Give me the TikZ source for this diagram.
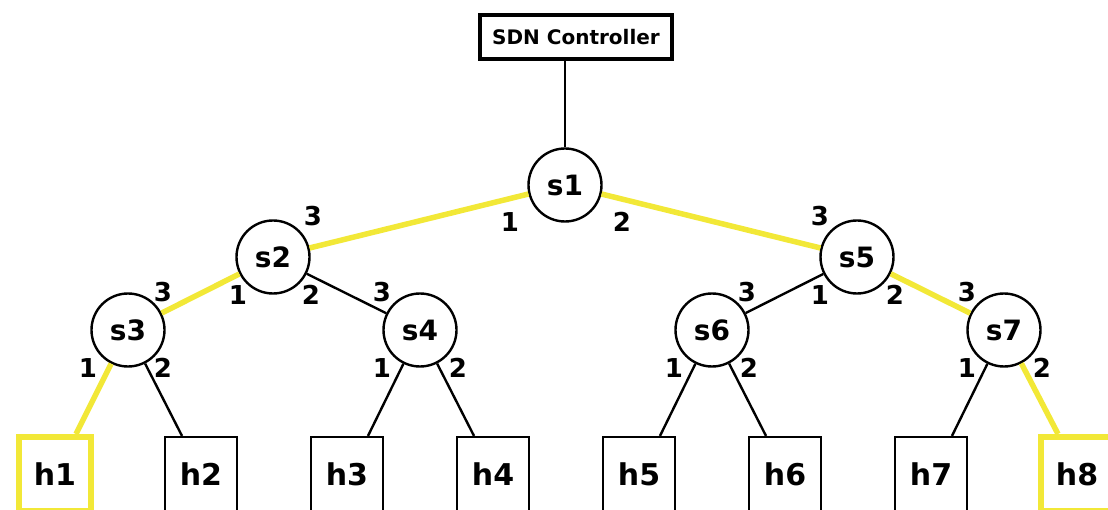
\documentclass[tikz,border=0pt]{standalone}
\usepackage{fontspec}
\setmainfont{DejaVu Sans}
\usetikzlibrary{positioning}
\definecolor{pathyellow}{RGB}{242,232,55}
\tikzset{
    %Define style for switches
    swt/.style={
           circle,
           draw = black, line width = 2.4pt, fill = white,
           minimum size = 73pt, inner sep = 0pt,
           font = \fontsize{28}{30}\selectfont\bfseries},
    %Define style for hosts
    hst/.style={
           rectangle,
           draw = black, line width = 2.2pt, fill = white,
           minimum width = 72pt, minimum height = 74pt,
           font = \fontsize{30}{32}\selectfont\bfseries},
    onpath/.style={
           draw = pathyellow, line width = 6pt},
    ctl/.style={
           rectangle,
           draw = black, line width = 4pt, fill = white,
           minimum width = 192pt, minimum height = 44pt,
           font = \fontsize{20}{22}\selectfont\bfseries},
    prt/.style={
           inner sep = 0pt,
           font = \fontsize{26}{28}\selectfont\bfseries},
    % Define link styles
    lnk/.style={
           line width = 2.4pt},
    yel/.style={
           draw = pathyellow, line width = 5.5pt}
}
\begin{document}
\begin{tikzpicture}[x=1pt, y=-1pt]
\useasboundingbox (0,0) rectangle (1108,510);
 %nodes
\node[ctl] (ctrl) at (576,37) {SDN Controller};
\node[swt] (s1) at (565,185) {s1};
\node[swt] (s2) at (273,257) {s2};
\node[swt] (s5) at (857,257) {s5};
\node[swt] (s3) at (128,330) {s3};
\node[swt] (s4) at (420,330) {s4};
\node[swt] (s6) at (712,330) {s6};
\node[swt] (s7) at (1004,330) {s7};
\node[hst, onpath] (h1) at (55,474) {h1};
\node[hst] (h2) at (201,474) {h2};
\node[hst] (h3) at (347,474) {h3};
\node[hst] (h4) at (493,474) {h4};
\node[hst] (h5) at (639,474) {h5};
\node[hst] (h6) at (785,474) {h6};
\node[hst] (h7) at (931,474) {h7};
\node[hst, onpath] (h8) at (1077,474) {h8};
 %ports
\node[prt] (s1p1) at ([shift={(-55,37)}]s1) {1};
\node[prt] (s1p2) at ([shift={(57,37)}]s1) {2};
\node[prt] (s2p3) at ([shift={(40,-41)}]s2) {3};
\node[prt] (s2p1) at ([shift={(-35,38)}]s2) {1};
\node[prt] (s2p2) at ([shift={(38,38)}]s2) {2};
\node[prt] (s5p3) at ([shift={(-37,-41)}]s5) {3};
\node[prt] (s5p1) at ([shift={(-37,38)}]s5) {1};
\node[prt] (s5p2) at ([shift={(38,38)}]s5) {2};
\node[prt] (s3p3) at ([shift={(35,-38)}]s3) {3};
\node[prt] (s3p1) at ([shift={(-40,38)}]s3) {1};
\node[prt] (s3p2) at ([shift={(35,38)}]s3) {2};
\node[prt] (s4p3) at ([shift={(-38,-38)}]s4) {3};
\node[prt] (s4p1) at ([shift={(-38,38)}]s4) {1};
\node[prt] (s4p2) at ([shift={(38,38)}]s4) {2};
\node[prt] (s6p3) at ([shift={(35,-38)}]s6) {3};
\node[prt] (s6p1) at ([shift={(-38,38)}]s6) {1};
\node[prt] (s6p2) at ([shift={(37,38)}]s6) {2};
\node[prt] (s7p3) at ([shift={(-37,-38)}]s7) {3};
\node[prt] (s7p1) at ([shift={(-37,38)}]s7) {1};
\node[prt] (s7p2) at ([shift={(38,38)}]s7) {2};
 %links
\draw[lnk] (s1) -- (s1 |- ctrl.south);
\draw[yel] (s1) -- (s2);
\draw[yel] (s1) -- (s5);
\draw[yel] (s2) -- (s3);
\draw[lnk] (s2) -- (s4);
\draw[lnk] (s5) -- (s6);
\draw[yel] (s5) -- (s7);
\draw[yel] (s3) -- ([xshift=21]h1.north);
\draw[lnk] (s3) -- ([xshift=-19]h2.north);
\draw[lnk] (s4) -- ([xshift=21]h3.north);
\draw[lnk] (s4) -- ([xshift=-19]h4.north);
\draw[lnk] (s6) -- ([xshift=21]h5.north);
\draw[lnk] (s6) -- ([xshift=-19]h6.north);
\draw[lnk] (s7) -- ([xshift=21]h7.north);
\draw[yel] (s7) -- ([xshift=-19]h8.north);
\end{tikzpicture}
\end{document}
